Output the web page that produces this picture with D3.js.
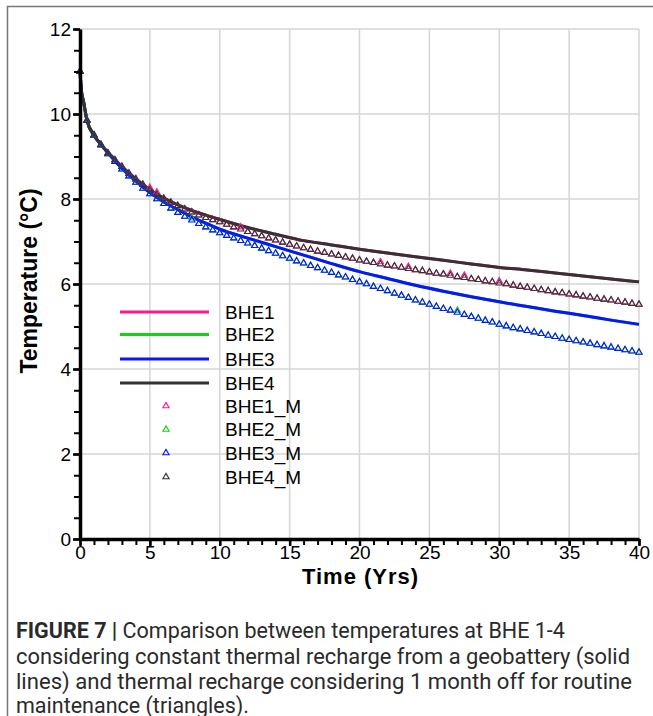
<!DOCTYPE html>
<meta charset="utf-8">
<script src="https://d3js.org/d3.v7.min.js"></script>
<style>
  body { margin: 0; background: #fff; }
</style>
<body>
<div id="chart"></div>
<script>
// solid lines (constant recharge)
var timeLine = [0, 0.1, 0.25, 0.5, 1, 1.5, 2, 3, 4, 5, 6, 7, 8, 9, 10, 12, 14, 16, 18, 20, 22, 24, 26, 28, 30, 32, 34, 36, 38, 40];
var bhe1 = [11.0, 10.55, 10.3, 9.85, 9.5, 9.28, 9.1, 8.76, 8.47, 8.22, 8.02, 7.86, 7.73, 7.62, 7.52, 7.33, 7.17, 7.02, 6.92, 6.82, 6.73, 6.64, 6.56, 6.47, 6.39, 6.33, 6.26, 6.19, 6.12, 6.05];
var bhe2 = [11.0, 10.55, 10.3, 9.85, 9.5, 9.28, 9.08, 8.72, 8.42, 8.15, 7.93, 7.75, 7.58, 7.43, 7.29, 7.08, 6.88, 6.68, 6.48, 6.29, 6.13, 5.97, 5.83, 5.70, 5.58, 5.47, 5.36, 5.26, 5.15, 5.05];
var bhe3 = [11.0, 10.55, 10.3, 9.85, 9.5, 9.28, 9.08, 8.72, 8.42, 8.15, 7.93, 7.75, 7.58, 7.43, 7.29, 7.08, 6.88, 6.68, 6.48, 6.29, 6.13, 5.97, 5.83, 5.70, 5.58, 5.47, 5.36, 5.26, 5.15, 5.05];
var bhe4 = [11.0, 10.55, 10.3, 9.85, 9.5, 9.28, 9.1, 8.76, 8.47, 8.22, 8.02, 7.86, 7.73, 7.62, 7.52, 7.33, 7.17, 7.02, 6.92, 6.82, 6.73, 6.64, 6.56, 6.47, 6.39, 6.33, 6.26, 6.19, 6.12, 6.05];

// triangles (1 month off for maintenance)
var timeM = [0, 0.5, 1, 1.5, 2, 2.5, 3, 3.5, 4, 4.5, 5, 5.5, 6, 6.5, 7, 7.5, 8, 8.5, 9, 9.5,
  10, 10.5, 11, 11.5, 12, 12.5, 13, 13.5, 14, 14.5, 15, 15.5, 16, 16.5, 17, 17.5, 18, 18.5, 19, 19.5,
  20, 20.5, 21, 21.5, 22, 22.5, 23, 23.5, 24, 24.5, 25, 25.5, 26, 26.5, 27, 27.5, 28, 28.5, 29, 29.5,
  30, 30.5, 31, 31.5, 32, 32.5, 33, 33.5, 34, 34.5, 35, 35.5, 36, 36.5, 37, 37.5, 38, 38.5, 39, 39.5, 40];
var bhe1M = [11.0, 9.85, 9.5, 9.28, 9.08, 8.92, 8.76, 8.6, 8.47, 8.34, 8.27, 8.16, 8.01, 7.92, 7.84, 7.76, 7.69, 7.62, 7.56, 7.51,
  7.46, 7.40, 7.34, 7.34, 7.23, 7.18, 7.13, 7.08, 7.03, 6.98, 6.93, 6.89, 6.85, 6.81, 6.77, 6.74, 6.70, 6.67, 6.63, 6.60,
  6.56, 6.53, 6.50, 6.52, 6.44, 6.42, 6.39, 6.41, 6.33, 6.31, 6.28, 6.25, 6.23, 6.25, 6.17, 6.20, 6.12, 6.10, 6.07, 6.05,
  6.07, 6.00, 5.97, 5.94, 5.92, 5.89, 5.86, 5.84, 5.81, 5.79, 5.76, 5.74, 5.71, 5.69, 5.66, 5.64, 5.62, 5.59, 5.57, 5.54, 5.52];
var bhe2M = [11.0, 9.85, 9.5, 9.27, 9.06, 8.88, 8.70, 8.54, 8.39, 8.25, 8.12, 8.0, 7.89, 7.78, 7.68, 7.59, 7.55, 7.42, 7.34, 7.27,
  7.20, 7.14, 7.08, 7.02, 6.96, 6.90, 6.84, 6.78, 6.72, 6.66, 6.60, 6.54, 6.49, 6.43, 6.38, 6.32, 6.27, 6.21, 6.16, 6.10,
  6.05, 6.0, 5.94, 5.89, 5.84, 5.78, 5.73, 5.68, 5.62, 5.57, 5.52, 5.47, 5.42, 5.38, 5.38, 5.28, 5.23, 5.19, 5.14, 5.10,
  5.05, 5.01, 4.97, 4.94, 4.90, 4.87, 4.83, 4.79, 4.76, 4.72, 4.69, 4.66, 4.63, 4.60, 4.57, 4.54, 4.51, 4.48, 4.45, 4.42, 4.39];
var bhe3M = [11.0, 9.85, 9.5, 9.27, 9.06, 8.88, 8.70, 8.54, 8.39, 8.25, 8.12, 8.0, 7.89, 7.78, 7.68, 7.59, 7.50, 7.42, 7.34, 7.27,
  7.20, 7.14, 7.08, 7.02, 6.96, 6.90, 6.84, 6.78, 6.72, 6.66, 6.60, 6.54, 6.49, 6.43, 6.38, 6.32, 6.27, 6.21, 6.16, 6.10,
  6.05, 6.0, 5.94, 5.89, 5.84, 5.78, 5.73, 5.68, 5.62, 5.57, 5.52, 5.47, 5.42, 5.38, 5.33, 5.28, 5.23, 5.19, 5.14, 5.10,
  5.05, 5.01, 4.97, 4.94, 4.90, 4.87, 4.83, 4.79, 4.76, 4.72, 4.69, 4.66, 4.63, 4.60, 4.57, 4.54, 4.51, 4.48, 4.45, 4.42, 4.39];
var bhe4M = [11.0, 9.85, 9.5, 9.28, 9.08, 8.92, 8.76, 8.6, 8.47, 8.34, 8.22, 8.11, 8.01, 7.92, 7.84, 7.76, 7.69, 7.62, 7.56, 7.51,
  7.46, 7.40, 7.34, 7.29, 7.23, 7.18, 7.13, 7.08, 7.03, 6.98, 6.93, 6.89, 6.85, 6.81, 6.77, 6.74, 6.70, 6.67, 6.63, 6.60,
  6.56, 6.53, 6.50, 6.47, 6.44, 6.42, 6.39, 6.36, 6.33, 6.31, 6.28, 6.25, 6.23, 6.20, 6.17, 6.15, 6.12, 6.10, 6.07, 6.05,
  6.02, 6.00, 5.97, 5.94, 5.92, 5.89, 5.86, 5.84, 5.81, 5.79, 5.76, 5.74, 5.71, 5.69, 5.66, 5.64, 5.62, 5.59, 5.57, 5.54, 5.52];

var lineNames = ["BHE1", "BHE2", "BHE3", "BHE4"];
var markNames = ["BHE1_M", "BHE2_M", "BHE3_M", "BHE4_M"];
var colors = ["#ff1a8c", "#14d214", "#0a14ff", "#333333"];
var xTicks = [0, 5, 10, 15, 20, 25, 30, 35, 40];
var yTicks = [0, 2, 4, 6, 8, 10, 12];

var W = 653, H = 716;
var x0 = 80, x1 = 639, y0 = 539, y1 = 29;

var svg = d3.select("#chart").append("svg")
  .attr("width", W)
  .attr("height", H)
  .style("font-family", "'Liberation Sans', Arial, sans-serif");

// outer frame (only top and left visible)
svg.append("path")
  .attr("d", "M7.5," + H + "V6.5H" + W)
  .attr("fill", "none")
  .attr("stroke", "#777")
  .attr("stroke-width", 1.5);

var x = d3.scaleLinear().domain([0, 40]).range([x0, x1]);
var y = d3.scaleLinear().domain([0, 12]).range([y0, y1]);

// grid
var grid = svg.append("g").attr("stroke", "#d6d6d6").attr("stroke-width", 1.5);
grid.selectAll(".gx").data(xTicks.slice(1)).enter().append("line")
  .attr("x1", d => x(d)).attr("x2", d => x(d))
  .attr("y1", y0).attr("y2", y1);
grid.selectAll(".gy").data(yTicks.slice(1)).enter().append("line")
  .attr("y1", d => y(d)).attr("y2", d => y(d))
  .attr("x1", x0).attr("x2", x1);

// solid lines
var lineData = [bhe1, bhe2, bhe3, bhe4];
var line = d3.line()
  .x(d => x(d[0]))
  .y(d => y(d[1]))
  .curve(d3.curveMonotoneX);

svg.append("g").selectAll("path").data(lineData).enter().append("path")
  .attr("d", vals => line(timeLine.map((t, i) => [t, vals[i]])))
  .attr("fill", "none")
  .attr("stroke", (d, i) => colors[i])
  .attr("stroke-width", 3);

// triangles
var markData = [bhe1M, bhe2M, bhe3M, bhe4M];
var tri = d3.symbol().type(d3.symbolTriangle).size(17);

markData.forEach(function (vals, k) {
  svg.append("g").selectAll("path").data(timeM).enter().append("path")
    .attr("d", tri)
    .attr("transform", (t, i) => "translate(" + x(t) + "," + y(vals[i]) + ")")
    .attr("fill", "none")
    .attr("stroke", colors[k])
    .attr("stroke-width", 1.1);
});

// axes
var xAxis = svg.append("g").attr("transform", "translate(0," + y0 + ")")
  .call(d3.axisBottom(x).tickValues(d3.range(0, 41, 1)).tickSize(6).tickSizeOuter(0).tickFormat(""));
xAxis.selectAll(".tick line").attr("stroke-width", 2);
svg.append("g").attr("transform", "translate(0," + y0 + ")")
  .call(d3.axisBottom(x).tickValues(xTicks).tickSize(7).tickSizeOuter(0))
  .call(g => g.select(".domain").attr("stroke-width", 3.5))
  .call(g => g.selectAll(".tick line").attr("stroke-width", 2.5))
  .call(g => g.selectAll("text").attr("font-size", 19).attr("fill", "#000").attr("dy", "0.72em").attr("y", 6).attr("font-family", "'Liberation Sans', Arial, sans-serif"));

var yAxis = svg.append("g").attr("transform", "translate(" + x0 + ",0)")
  .call(d3.axisLeft(y).tickValues(d3.range(0, 12.01, 0.5)).tickSize(6).tickSizeOuter(0).tickFormat(""));
yAxis.selectAll(".tick line").attr("stroke-width", 2);
svg.append("g").attr("transform", "translate(" + x0 + ",0)")
  .call(d3.axisLeft(y).tickValues(yTicks).tickSize(7).tickSizeOuter(0))
  .call(g => g.select(".domain").attr("stroke-width", 3.5))
  .call(g => g.selectAll(".tick line").attr("stroke-width", 2.5))
  .call(g => g.selectAll("text").attr("font-size", 19).attr("fill", "#000").attr("x", -9).attr("font-family", "'Liberation Sans', Arial, sans-serif"));

// axis titles
svg.append("text")
  .attr("x", 360).attr("y", 584)
  .attr("text-anchor", "middle")
  .attr("font-size", 22).attr("font-weight", "bold")
  .attr("textLength", 116)
  .text("Time (Yrs)");

svg.append("text")
  .attr("transform", "translate(37,281) rotate(-90)")
  .attr("text-anchor", "middle")
  .attr("font-size", 23).attr("font-weight", "bold")
  .text("Temperature (°C)");

// legend
var legY = [312, 334.5, 359, 383, 406, 429.5, 453, 477];
var leg = svg.append("g");
lineNames.forEach(function (n, i) {
  leg.append("line")
    .attr("x1", 120).attr("x2", 209)
    .attr("y1", legY[i]).attr("y2", legY[i])
    .attr("stroke", colors[i]).attr("stroke-width", 3);
  leg.append("text").attr("x", 225).attr("y", legY[i]).attr("dy", "0.36em")
    .attr("font-size", 19).text(n);
});
markNames.forEach(function (n, i) {
  leg.append("path")
    .attr("d", tri)
    .attr("transform", "translate(166," + legY[i + 4] + ")")
    .attr("fill", "none").attr("stroke", colors[i]).attr("stroke-width", 1.1);
  leg.append("text").attr("x", 225).attr("y", legY[i + 4]).attr("dy", "0.36em")
    .attr("font-size", 19).text(n);
});

// caption
var cap = svg.append("g")
  .style("font-family", "Roboto, sans-serif")
  .attr("font-size", 21.5)
  .attr("fill", "#2a2a2a");
var l1 = cap.append("text").attr("x", 16).attr("y", 638);
l1.append("tspan").attr("font-weight", "bold").text("FIGURE 7 | ");
l1.append("tspan").text("Comparison between temperatures at BHE 1-4");
cap.append("text").attr("x", 16).attr("y", 663.5)
  .attr("textLength", 614).attr("lengthAdjust", "spacingAndGlyphs")
  .text("considering constant thermal recharge from a geobattery (solid");
cap.append("text").attr("x", 16).attr("y", 689)
  .attr("textLength", 616).attr("lengthAdjust", "spacingAndGlyphs")
  .text("lines) and thermal recharge considering 1 month off for routine");
cap.append("text").attr("x", 16).attr("y", 712.5)
  .text("maintenance (triangles).");
</script>
</body>
